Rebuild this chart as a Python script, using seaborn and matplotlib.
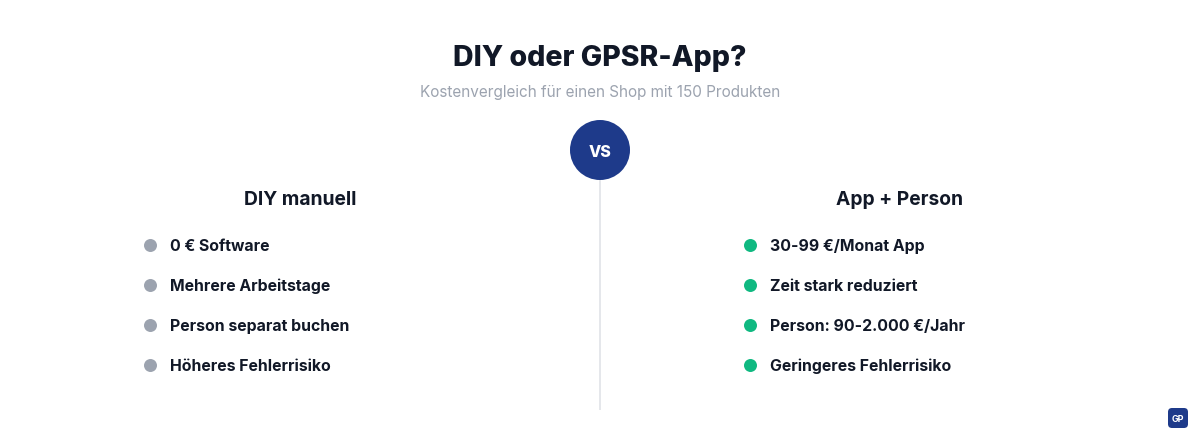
import pandas as pd
import seaborn as sns
import matplotlib.pyplot as plt
from matplotlib.patches import Circle, FancyBboxPatch

TITLE = "DIY oder GPSR-App?"
SUBTITLE = "Kostenvergleich für einen Shop mit 150 Produkten"
HEADERS = ["DIY manuell", "App + Person"]
LEFT_ITEMS = ["0 € Software", "Mehrere Arbeitstage", "Person separat buchen", "Höheres Fehlerrisiko"]
RIGHT_ITEMS = ["30-99 €/Monat App", "Zeit stark reduziert", "Person: 90-2.000 €/Jahr", "Geringeres Fehlerrisiko"]
ROWS = [1, 2, 3, 4]

NAVY = "#1e3a8a"
DARK = "#111827"
GREY = "#9ca3af"
GREEN = "#10b981"


def px(size):
    # css px to points at dpi 100
    return size * 0.72


def row_y(row):
    return 205 + row * 40


sns.set_theme(style="white")
plt.rcParams['font.family'] = ['Inter', 'DejaVu Sans']

fig = plt.figure(figsize=(12, 4.4), dpi=100, facecolor="white")
ax = fig.add_axes([0, 0, 1, 1])

left = pd.DataFrame({"x": 150, "y": [row_y(r) for r in ROWS], "label": LEFT_ITEMS})
right = pd.DataFrame({"x": 750, "y": [row_y(r) for r in ROWS], "label": RIGHT_ITEMS})

for df, color in [(left, GREY), (right, GREEN)]:
    sns.scatterplot(data=df, x="x", y="y", color=color, s=px(13) ** 2, linewidth=0, ax=ax, legend=False)
    for _, row in df.iterrows():
        ax.text(row["x"] + 20, row["y"], row["label"], fontsize=px(15.8), fontweight="bold",
                color=DARK, ha="left", va="center_baseline")

ax.set_xlim(0, 1200)
ax.set_ylim(440, 0)
ax.axis("off")

ax.text(600, 55, TITLE, fontsize=px(28.5), fontweight=800, color=DARK, ha="center", va="center_baseline")
ax.text(600, 91, SUBTITLE, fontsize=px(15.3), color=GREY, ha="center", va="center_baseline")

# divider and vs badge
ax.plot([600, 600], [180, 410], color="#e5e7eb", lw=px(2), solid_capstyle="butt", zorder=1)
ax.add_patch(Circle((600, 150), 30, facecolor=NAVY, edgecolor="none", zorder=2))
ax.text(600, 151, "VS", fontsize=px(16), fontweight=800, color="white", ha="center", va="center_baseline", zorder=3)

ax.text(300, 198, HEADERS[0], fontsize=px(19.2), fontweight="bold", color=DARK, ha="center", va="center_baseline")
ax.text(900, 198, HEADERS[1], fontsize=px(19.2), fontweight="bold", color=DARK, ha="center", va="center_baseline")

# logo corner
ax.add_patch(FancyBboxPatch((1172, 412), 12, 12, boxstyle="round,pad=4,rounding_size=4",
                            facecolor=NAVY, edgecolor="none"))
ax.text(1178, 418, "GP", fontsize=px(9), fontweight="bold", color="white", ha="center", va="center_baseline")

fig.savefig("out.png", dpi=100, facecolor="white")
